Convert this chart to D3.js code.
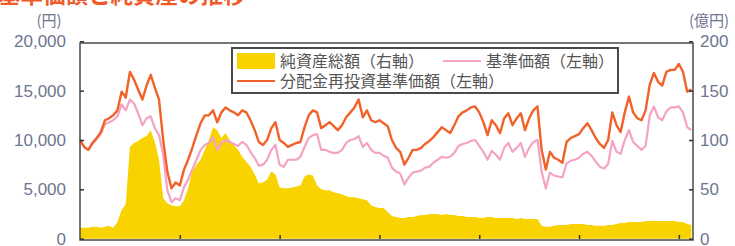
<!DOCTYPE html>
<html>
<head>
<meta charset="utf-8">
<script src="https://cdn.jsdelivr.net/npm/d3@7"></script>
<style>
  body { margin: 0; background: #fff; }
  svg { display: block; }
  .tick-label { font-family: "Liberation Sans", Arial, sans-serif; font-size: 17px; fill: #6e7591; }
  .jp { font-family: "Noto Sans CJK JP", sans-serif; }
</style>
</head>
<body>
<svg id="chart" width="735" height="246"></svg>
<script>
// months since start (x axis), one point per month
var months = d3.range(0, 148);

// 分配金再投資基準価額 (円, left axis)
var reinvestedNav = [
  10000, 9300, 9000, 9700, 10200, 10800, 12000, 12200, 12500, 13000,
  14900, 14300, 16900, 16100, 15100, 14100, 15500, 16600, 15300, 14100,
  10000, 6800, 5100, 5700, 5400, 7000, 8000, 9200, 10500, 11700,
  12500, 12500, 13000, 11800, 12800, 13300, 13000, 12800, 12500, 13000,
  12800, 12000, 11000, 9800, 9500, 10000, 11200, 11800, 10000, 9700,
  9300, 9500, 9700, 9800, 11300, 12500, 13000, 12800, 11200, 11500,
  11800, 11400, 11000, 11500, 12300, 12800, 13300, 14100, 12300, 13000,
  12000, 11800, 12000, 11700, 11400, 10000, 9200, 8800, 7500, 8200,
  9000, 9000, 9200, 9600, 9900, 10300, 10800, 11300, 11000, 10700,
  11500, 12400, 12800, 13000, 13300, 13400, 12800, 11800, 10500, 12000,
  11500, 10700, 12200, 12700, 11500, 12200, 12700, 11000, 12200, 13000,
  13400, 9000, 7000, 8800, 8200, 8000, 7700, 9800, 10200, 10400,
  10600, 11200, 11700, 11000, 10200, 9600, 9200, 10000, 12800, 11500,
  10800, 12800, 14400, 12800, 12200, 12000, 13000, 15600, 16800, 15900,
  15500, 16900, 17100, 17100, 17700, 16900, 14900, 15100
];

// 基準価額 (円, left axis)
var nav = [
  10000, 9300, 9000, 9600, 10100, 10600, 11600, 11800, 12000, 12400,
  13600, 13000, 14100, 13700, 12700, 11500, 12200, 12400, 11200, 10500,
  8500, 4900, 3700, 4100, 3900, 5200, 6000, 7000, 8000, 9000,
  9500, 9700, 10300, 9000, 9700, 10000, 9800, 9600, 9400, 9800,
  9500, 8800, 8200, 7400, 7500, 8000, 9000, 9500, 7500, 7300,
  8000, 8000, 8000, 8300, 9300, 10200, 10500, 10600, 9000, 9000,
  8800, 8700, 8700, 9000, 9700, 10000, 10100, 10400, 9300, 9700,
  9000, 8700, 8700, 8400, 8200, 7200, 6800, 6600, 5500, 6200,
  6700, 6800, 6900, 7200, 7300, 7700, 8000, 8300, 8200, 8300,
  8700, 9400, 9600, 9700, 9900, 10000, 9400, 8800, 8000, 8900,
  8500, 8000, 9200, 9700, 8800, 9200, 9700, 8300, 9200, 9800,
  10000, 6800, 5100, 6700, 6400, 6300, 6200, 7600, 7900, 8000,
  8200, 8600, 8800, 8400, 7800, 7300, 7100, 7600, 9900, 8800,
  8600, 10000, 11000, 9800, 9400, 9000, 9400, 12500, 13400, 12300,
  12000, 12900, 13300, 13300, 13400, 12800, 11300, 11000
];

// 純資産総額 (億円, right axis)
var netAssets = [
  11, 11, 11, 12, 12, 11, 12, 13, 11, 17,
  29, 35, 93, 97, 99, 102, 104, 110, 98, 80,
  41, 36, 34, 33, 33, 39, 51, 68, 75, 80,
  90, 100, 113, 110, 102, 107, 100, 95, 90, 83,
  78, 73, 65, 56, 57, 60, 68, 65, 52, 51,
  51, 52, 53, 54, 63, 65, 64, 54, 50, 49,
  49, 47, 46, 45, 43, 42, 42, 41, 40, 39,
  34, 32, 31, 31, 27, 23, 22, 21, 21, 22,
  22, 23, 24, 24, 25, 25, 25, 24, 25, 24,
  24, 23, 23, 22, 22, 22, 21, 21, 22, 22,
  21, 21, 21, 21, 21, 20, 21, 20, 20, 20,
  20, 13, 12, 12, 13, 14, 14, 14, 15, 15,
  15, 15, 14, 14, 13, 13, 13, 14, 14, 15,
  16, 16, 17, 17, 17, 17, 18, 18, 18, 18,
  18, 18, 18, 18, 17, 17, 15, 14
];

var leftTicks = [0, 5000, 10000, 15000, 20000];
var rightTicks = [0, 50, 100, 150, 200];
var xTicks = [24, 48, 72, 96, 120, 144];

var legendItems = [
  { label: "純資産総額（右軸）", kind: "area", color: "#f8d300" },
  { label: "基準価額（左軸）", kind: "line", color: "#f4a3c4" },
  { label: "分配金再投資基準価額（左軸）", kind: "line", color: "#f1622a" }
];

var svg = d3.select("#chart");
var plot = { left: 80, right: 693, top: 43, bottom: 239 };

var x = d3.scaleLinear().domain([0, 147.4]).range([plot.left, plot.right]);
var yL = d3.scaleLinear().domain([0, 20000]).range([238.7, 41.3]);
var yR = d3.scaleLinear().domain([0, 200]).range([238.7, 41.3]);

// title, cut off by the top edge
svg.append("text")
  .attr("class", "jp")
  .attr("x", -2)
  .attr("y", 3)
  .attr("fill", "#f05a28")
  .style("font-size", "22.5px")
  .style("font-weight", "700")
  .text("基準価額と純資産の推移");

// net assets area
svg.append("path")
  .datum(months)
  .attr("fill", "#f8d300")
  .attr("d", d3.area()
    .x(function(d) { return x(d); })
    .y0(yR(0))
    .y1(function(d, i) { return yR(netAssets[i]); }));

var line = function(values) {
  return d3.line()
    .x(function(d) { return x(d); })
    .y(function(d, i) { return yL(values[i]); });
};

svg.append("path")
  .datum(months)
  .attr("fill", "none")
  .attr("stroke", "#f4a3c4")
  .attr("stroke-width", 2.2)
  .attr("stroke-linejoin", "round")
  .attr("d", line(nav));

svg.append("path")
  .datum(months)
  .attr("fill", "none")
  .attr("stroke", "#f1622a")
  .attr("stroke-width", 2.4)
  .attr("stroke-linejoin", "round")
  .attr("d", line(reinvestedNav));

// frame
svg.append("rect")
  .attr("x", plot.left)
  .attr("y", plot.top)
  .attr("width", plot.right - plot.left)
  .attr("height", plot.bottom - plot.top + 1)
  .attr("fill", "none")
  .attr("stroke", "#4a4a4a")
  .attr("stroke-width", 1.5);

// axes
var leftAxis = svg.append("g")
  .attr("transform", "translate(" + plot.left + ",0)")
  .call(d3.axisRight(yL).tickValues(leftTicks).tickSize(4).tickFormat(""));
var rightAxis = svg.append("g")
  .attr("transform", "translate(" + plot.right + ",0)")
  .call(d3.axisLeft(yR).tickValues(rightTicks).tickSize(4).tickFormat(""));
var bottomAxis = svg.append("g")
  .attr("transform", "translate(0," + plot.bottom + ")")
  .call(d3.axisTop(x).tickValues(xTicks).tickSize(4).tickFormat(""));

[leftAxis, rightAxis, bottomAxis].forEach(function(g) {
  g.select(".domain").remove();
  g.selectAll(".tick line").attr("stroke", "#333").attr("stroke-width", 1.5);
});

svg.selectAll(".left-label")
  .data(leftTicks)
  .enter().append("text")
  .attr("class", "tick-label")
  .attr("x", 66)
  .attr("y", function(d) { return yL(d); })
  .attr("dy", "0.36em")
  .attr("text-anchor", "end")
  .text(d3.format(","));

svg.selectAll(".right-label")
  .data(rightTicks)
  .enter().append("text")
  .attr("class", "tick-label")
  .attr("x", 700)
  .attr("y", function(d) { return yR(d); })
  .attr("dy", "0.36em")
  .text(function(d) { return d; });

svg.append("text")
  .attr("class", "jp")
  .attr("x", 49)
  .attr("y", 26)
  .attr("text-anchor", "middle")
  .attr("fill", "#6e7591")
  .style("font-size", "15px")
  .text("(円)");

svg.append("text")
  .attr("class", "jp")
  .attr("x", 709)
  .attr("y", 26)
  .attr("text-anchor", "middle")
  .attr("fill", "#6e7591")
  .style("font-size", "15px")
  .text("(億円)");

// legend
var legend = svg.append("g").attr("transform", "translate(232,48)");
legend.append("rect")
  .attr("width", 386)
  .attr("height", 45)
  .attr("fill", "#fff")
  .attr("stroke", "#4a4a4a")
  .attr("stroke-width", 2);

var legendPos = [[5, 13], [211, 13], [5, 33]];
var items = legend.selectAll(".legend-item")
  .data(legendItems)
  .enter().append("g")
  .attr("class", "legend-item")
  .attr("transform", function(d, i) { return "translate(" + legendPos[i][0] + "," + legendPos[i][1] + ")"; });

items.filter(function(d) { return d.kind === "area"; })
  .append("rect")
  .attr("y", -8)
  .attr("width", 38)
  .attr("height", 16)
  .attr("fill", function(d) { return d.color; });

items.filter(function(d) { return d.kind === "line"; })
  .append("line")
  .attr("x1", 0)
  .attr("x2", 38)
  .attr("stroke", function(d) { return d.color; })
  .attr("stroke-width", 2);

items.append("text")
  .attr("class", "jp")
  .attr("x", 43)
  .attr("dy", "0.36em")
  .attr("fill", "#555")
  .style("font-size", "16px")
  .text(function(d) { return d.label; });
</script>
</body>
</html>
